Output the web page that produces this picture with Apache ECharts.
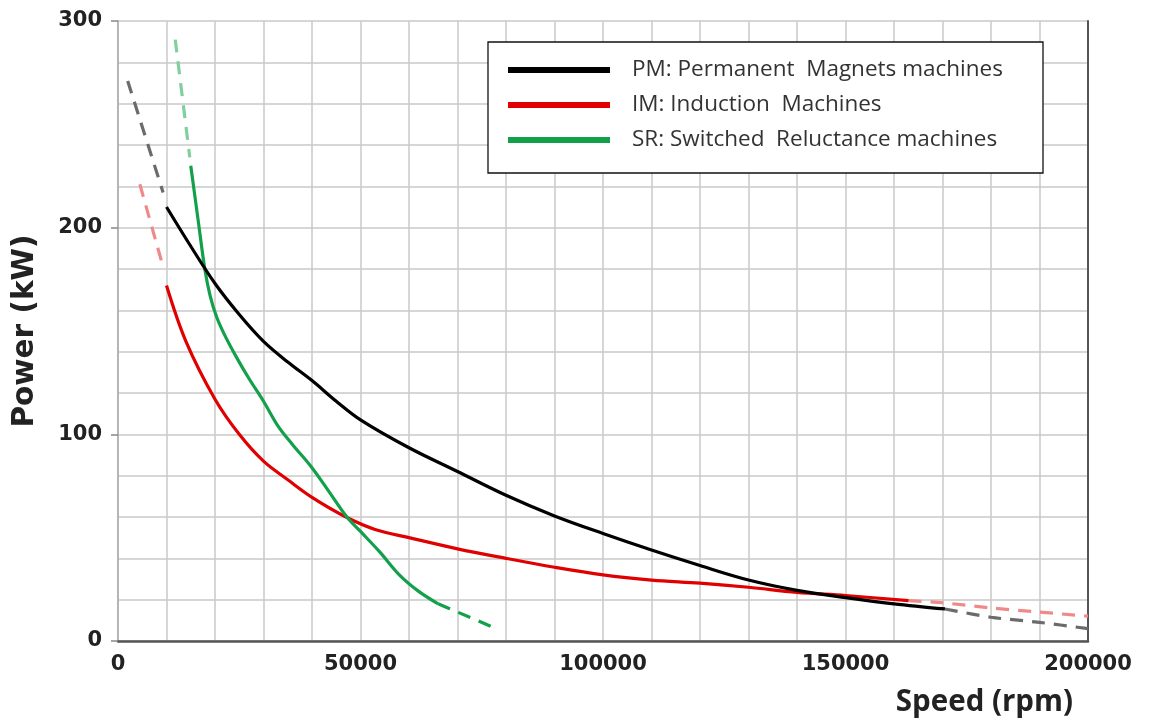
<!DOCTYPE html>
<html><head><meta charset="utf-8">
<script src="https://cdn.jsdelivr.net/npm/echarts@6/dist/echarts.min.js"></script>
<style>html,body{margin:0;padding:0;background:#fff}#c{width:1149px;height:720px}</style>
</head><body><div id="c"></div>
<script>
// Values: [speed (rpm), power (kW)]
const xTicks = [0, 50000, 100000, 150000, 200000];
const yTicks = [0, 100, 200, 300];
const seriesNames = ['PM: Permanent  Magnets machines', 'IM: Induction  Machines', 'SR: Switched  Reluctance machines'];

const pmSolid = [[10000,210],[15000,191],[20000,173],[25000,158],[30000,145],[35000,135],[40000,126],[45000,116],[50000,107],[60000,93.5],[70000,82],[80000,70.5],[90000,60.5],[100000,52],[110000,44],[120000,36.5],[130000,29.5],[140000,24.5],[150000,21],[160000,18],[170500,15.5]];
const pmDashLow = [[2000,271],[9300,217]];
const pmDashHigh = [[170500,15.5],[180000,11.5],[190000,9],[200000,6]];

const imSolid = [[10000,172],[14000,145],[20000,117],[25000,100],[30000,87],[35000,78],[40000,69.5],[47000,60],[53000,54],[60000,50],[70000,44.6],[80000,40],[90000,35.7],[100000,32],[110000,29.5],[120000,28],[130000,26],[140000,23.5],[150000,22],[163000,19.5]];
const imDashLow = [[4500,221],[9300,181]];
const imDashHigh = [[163000,19.5],[170000,18.5],[180000,16],[190000,14],[200000,12]];

const srSolid = [[15000,230],[16500,204],[17900,180],[19000,167],[20300,157],[22000,148],[24500,137],[27000,127],[30000,116],[33000,104],[36000,95],[39600,85],[43000,74],[47200,60],[50000,53],[54000,43],[58000,32],[62000,24],[66000,18]];
const srDashLow = [[11800,291],[14800,234]];
const srDashHigh = [[66000,18],[70000,14],[77000,7]];

const black = '#000000', red = '#e00000', green = '#12a04a';
const gray = '#6b6b6b', pink = '#ef8a8a', lightGreen = '#80cf9f';

function solid(name, data, color, z) {
  return {name, type:'line', data, smooth:0.35, showSymbol:false, symbol:'none', z,
    lineStyle:{color, width:3.2}, itemStyle:{color}};
}
function dashed(data, color, z) {
  return {type:'line', data, smooth:0.3, showSymbol:false, symbol:'none', z, silent:true,
    lineStyle:{color, width:3.2, type:[13,9]}, itemStyle:{color}};
}

const chart = echarts.init(document.getElementById('c'), null, {renderer:'canvas'});
chart.setOption({
  backgroundColor:'#fff',
  animation:false,
  grid:{left:118, right:61, top:21, bottom:79, containLabel:false},
  legend:{
    orient:'vertical', left:488, top:42,
    data:seriesNames,
    icon:'rect', itemWidth:102, itemHeight:6, itemGap:9,
    padding:[15,10,20,20],
    backgroundColor:'#fff', borderColor:'#111', borderWidth:1.3, borderRadius:0,
    textStyle:{fontFamily:'Open Sans', fontSize:22.5, color:'#333', lineHeight:26, padding:[0,0,0,17], width:401}
  },
  xAxis:{
    type:'value', min:0, max:200000, interval:50000,
    name:'Speed (rpm)', nameLocation:'end', nameGap:-15,
    nameTextStyle:{fontFamily:'Open Sans', fontWeight:'bold', fontSize:29.5, color:'#222', align:'right', verticalAlign:'top', padding:[47,0,0,0]},
    axisLine:{show:true, onZero:false, lineStyle:{color:'#555', width:2.5}},
    axisTick:{show:false},
    axisLabel:{fontFamily:'DejaVu Sans', fontWeight:'bold', fontSize:21, color:'#222', margin:13,
      formatter:v => xTicks.includes(v) ? String(v) : ''},
    splitLine:{show:true, lineStyle:{color:'#c9c9c9', width:1.5}},
    minorTick:{show:false, splitNumber:5},
    minorSplitLine:{show:true, lineStyle:{color:'#c9c9c9', width:1.5}}
  },
  yAxis:[{
    type:'value', min:0, max:300, interval:100,
    name:'Power (kW)', nameLocation:'middle', nameGap:78, nameRotate:90,
    nameTextStyle:{fontFamily:'DejaVu Sans', fontWeight:'bold', fontSize:29.5, color:'#222'},
    axisLine:{show:true, lineStyle:{color:'#aaa', width:1.5}},
    axisTick:{show:true, length:7, lineStyle:{color:'#888', width:1.5}},
    axisLabel:{fontFamily:'DejaVu Sans', fontWeight:'bold', fontSize:21, color:'#222', margin:16,
      formatter:v => yTicks.includes(v) ? String(v) : ''},
    splitLine:{show:true, lineStyle:{color:'#c9c9c9', width:1.5}},
    minorTick:{show:false, splitNumber:5},
    minorSplitLine:{show:true, lineStyle:{color:'#c9c9c9', width:1.5}}
  },{
    type:'value', min:0, max:300, interval:100, position:'right',
    axisLine:{show:true, lineStyle:{color:'#555', width:2}},
    axisTick:{show:false}, axisLabel:{show:false}, splitLine:{show:false}
  }],
  series:[
    dashed(pmDashLow, gray, 2), dashed(pmDashHigh, gray, 2),
    dashed(imDashLow, pink, 2), dashed(imDashHigh, pink, 2),
    dashed(srDashLow, lightGreen, 2), dashed(srDashHigh, green, 2),
    solid(seriesNames[0], pmSolid, black, 4),
    solid(seriesNames[1], imSolid, red, 3),
    solid(seriesNames[2], srSolid, green, 3)
  ]
});
</script></body></html>
